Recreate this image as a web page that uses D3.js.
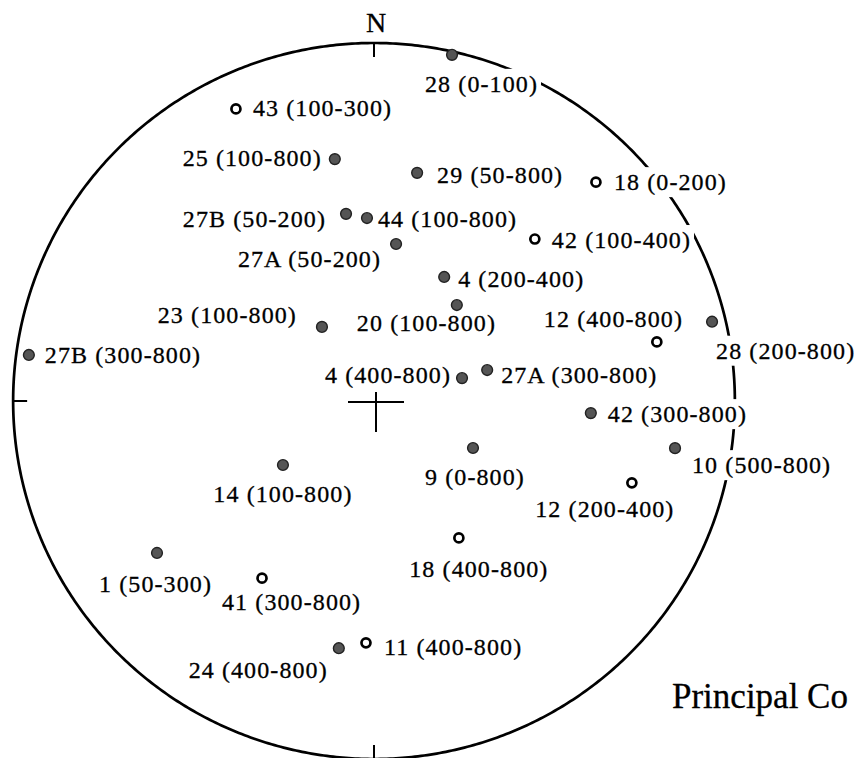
<!DOCTYPE html>
<html><head><meta charset="utf-8">
<script src="https://cdn.jsdelivr.net/npm/d3@7"></script>
<style>body{margin:0;background:#fff;}svg{display:block;}</style>
</head><body>
<svg id="chart" width="859" height="758"></svg>
<script>
// ---- data: site, demagnetisation interval, declination, inclination (negative = upper hemisphere)
const sites = ["28","43","25","29","18","27B","44","42","27A","4","23","20","12","28","27B","4","27A","42","10","9","12","14","18","1","41","24","11"];
const intervals = ["0-100","100-300","100-800","50-800","0-200","50-200","100-800","100-400","50-200","200-400","100-800","100-800","400-800","200-800","300-800","400-800","300-800","300-800","500-800","0-800","200-400","100-800","400-800","50-300","300-800","400-800","400-800"];
const declinations = [12.7,334.7,350.8,10.7,45.4,351.5,357.8,44.8,8.0,29.5,324.9,40.8,78.2,76.8,277.6,75.4,74.7,93.2,98.9,115.4,107.6,234.9,148.2,235.0,212.3,188.1,181.9];
const inclinations = [1.0,-10.7,32.1,35.4,-14.0,46.1,47.6,-36.4,53.5,57.3,69.4,61.0,-20.4,3.4,3.1,69.3,63.2,39.2,16.0,65.0,-25.4,64.6,-52.9,26.9,-41.1,30.9,-32.9];
const compassLabels = ["N"];
const captionText = "Principal Co";

// ---- label layout (offsets from the plotted point)
const labelDx = [-27,17,-13,20,18,-20,11,17,-15,14,-25,-100,-113,4,16,-11,14,17,17,2,-27,0,20,55,-40,-11,18];
const labelDy = [37,7,7,10,8,13,9,9,23,10,-4,26,-15,37,8,5,13,9,25,37,34,37,39,39,32,30,12];
const labelAnchor = ["start","start","end","start","start","end","start","start","end","start","end","start","start","start","start","end","start","start","start","middle","middle","middle","middle","end","start","end","start"];

const data = sites.map((s,i)=>({site:s, interval:intervals[i], dec:declinations[i], inc:inclinations[i],
  dx:labelDx[i], dy:labelDy[i], anchor:labelAnchor[i]}));

const cx = 374, cy = 401, R = 358;
const projection = d3.geoAzimuthalEqualArea()
  .rotate([180,-90])
  .scale(R/Math.SQRT2)
  .translate([cx,cy]);
const path = d3.geoPath(projection);
const P = d => projection([-d.dec, Math.abs(d.inc)]);

const svg = d3.select("#chart");
const FONT = "'Liberation Serif','Times New Roman',serif";

// primitive circle (slightly wider horizontally, as in the scan)
svg.append("g").attr("transform",`translate(${cx},${cy}) scale(1.008,1) translate(${-cx},${-cy})`)
  .append("path")
  .datum(d3.geoCircle().center([0,90]).radius(90).precision(0.5)())
  .attr("d", path)
  .attr("fill","none").attr("stroke","#000").attr("stroke-width",2.7);

// cardinal ticks
const tickDirs = [0,90,180,270];
const rx = R*1.008;
svg.selectAll("line.tick").data(tickDirs).join("line")
  .attr("class","tick")
  .attr("x1", d=>cx + rx*Math.sin(d*Math.PI/180))
  .attr("y1", d=>cy - R*Math.cos(d*Math.PI/180))
  .attr("x2", d=>cx + (rx-14)*Math.sin(d*Math.PI/180))
  .attr("y2", d=>cy - (R-14)*Math.cos(d*Math.PI/180))
  .attr("stroke","#000").attr("stroke-width",2);

// centre cross
const c0 = projection([0,90]);
svg.append("line").attr("x1",c0[0]-26).attr("x2",c0[0]+30).attr("y1",c0[1]+1).attr("y2",c0[1]+1)
  .attr("stroke","#000").attr("stroke-width",2);
svg.append("line").attr("x1",c0[0]+2).attr("x2",c0[0]+2).attr("y1",c0[1]-9).attr("y2",c0[1]+31)
  .attr("stroke","#000").attr("stroke-width",2);

// N label
svg.append("text").text(compassLabels[0])
  .attr("x", cx+2).attr("y", 32).attr("text-anchor","middle")
  .attr("font-family",FONT).attr("font-size",28).attr("fill","#000")
  .attr("stroke","#000").attr("stroke-width",0.3);

// labels with white knock-out backgrounds
const bgG = svg.append("g");
const lblG = svg.append("g");
const labels = lblG.selectAll("text").data(data).join("text")
  .attr("x", d=>P(d)[0] + d.dx)
  .attr("y", d=>P(d)[1] + d.dy)
  .attr("text-anchor", d=>d.anchor)
  .attr("font-family",FONT).attr("font-size",24)
  .attr("letter-spacing","1.1px")
  .attr("fill","#000").attr("stroke","#000").attr("stroke-width",0.3)
  .text(d=>`${d.site} (${d.interval})`);
labels.each(function(){
  const b = this.getBBox();
  bgG.append("rect").attr("x",b.x-3).attr("y",b.y-2).attr("width",b.width+6).attr("height",b.height+4)
    .attr("fill","#fff");
});

// points
svg.append("g").selectAll("circle").data(data).join("circle")
  .attr("cx", d=>P(d)[0])
  .attr("cy", d=>P(d)[1])
  .attr("r", d=>d.inc>=0 ? 5.4 : 4.5)
  .attr("fill", d=>d.inc>=0 ? "#555" : "#fff")
  .attr("stroke", d=>d.inc>=0 ? "#222" : "#000")
  .attr("stroke-width", d=>d.inc>=0 ? 1.4 : 2.7);

// caption
svg.append("text").text(captionText)
  .attr("x",672).attr("y",708)
  .attr("font-family",FONT).attr("font-size",35).attr("fill","#000")
  .attr("stroke","#000").attr("stroke-width",0.3);
</script>
</body></html>
